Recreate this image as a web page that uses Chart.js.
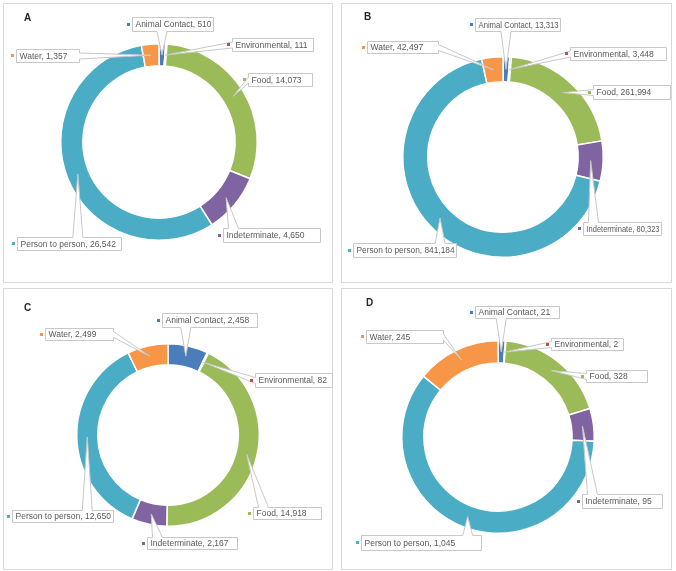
<!DOCTYPE html>
<html>
<head>
<meta charset="utf-8">
<script src="https://cdn.jsdelivr.net/npm/chart.js@4.4.1/dist/chart.umd.min.js"></script>
<style>
  body { margin: 0; background: #fff; width: 676px; height: 571px; position: relative; }
  .panel { position: absolute; border: 1px solid #d9d9d9; box-sizing: border-box; }
  .panel canvas { position: absolute; left: -1px; top: -1px; }
</style>
</head>
<body>
<div class="panel" style="left:3px;top:3px;width:330px;height:280px"><canvas id="chartA"></canvas></div>
<div class="panel" style="left:341px;top:3px;width:331px;height:280px"><canvas id="chartB"></canvas></div>
<div class="panel" style="left:3px;top:288px;width:330px;height:282px"><canvas id="chartC"></canvas></div>
<div class="panel" style="left:341px;top:288px;width:331px;height:282px"><canvas id="chartD"></canvas></div>
<script>
// --- Data ---
const categories = ['Animal Contact', 'Environmental', 'Food', 'Indeterminate', 'Person to person', 'Water'];
const valuesA = [510, 111, 14073, 4650, 26542, 1357];
const valuesB = [13313, 3448, 261994, 80323, 841184, 42497];
const valuesC = [2458, 82, 14918, 2167, 12650, 2499];
const valuesD = [21, 2, 328, 95, 1045, 245];

const sliceColors = ['#4a7ebb', '#c0504d', '#9bbb59', '#8064a2', '#4bacc6', '#f79646'];

// --- Layout per panel (donut centre / radius, label boxes [x, y, w, h]) ---
const layoutA = { w: 330, h: 280, cx: 156, cy: 139, r: 99, cutout: '77.5%', title: 'A', tx: 21, ty: 15,
  boxes: [[129, 14, 81, 14], [229, 35, 81, 13], [245, 70, 64, 13], [220, 225, 97, 14], [14, 234, 104, 13], [13, 46, 63, 13]] };
const layoutB = { w: 331, h: 280, cx: 162, cy: 154, r: 101, cutout: '75%', title: 'B', tx: 23, ty: 14,
  boxes: [[134, 15, 85, 13], [229, 44, 96, 13], [252, 82, 77, 14], [242, 219, 78, 13], [12, 240, 103, 14], [26, 38, 71, 12]] };
const layoutC = { w: 330, h: 282, cx: 165, cy: 147, r: 92, cutout: '77%', title: 'C', tx: 21, ty: 20,
  boxes: [[159, 25, 95, 14], [252, 85, 77, 14], [250, 219, 68, 12], [144, 249, 90, 12], [9, 222, 101, 12], [42, 40, 68, 12]] };
const layoutD = { w: 331, h: 282, cx: 157, cy: 149, r: 97, cutout: '77%', title: 'D', tx: 25, ty: 15,
  boxes: [[134, 18, 84, 12], [210, 50, 72, 12], [245, 82, 61, 12], [241, 206, 80, 14], [20, 247, 120, 15], [25, 42, 77, 13]] };

// wedge callouts pointing at the middle of each slice
const calloutPlugin = {
  id: 'callouts',
  afterDatasetsDraw(chart, args, opts) {
    const ctx = chart.ctx;
    const arcs = chart.getDatasetMeta(0).data;
    const vals = chart.data.datasets[0].data;
    ctx.save();
    ctx.font = '8.5px "Liberation Sans", Arial, sans-serif';
    ctx.lineWidth = 1;
    ctx.strokeStyle = '#c8c8c8';

    const labels = opts.boxes.map((b, i) => ({
      x: b[0] + 0.5, y: b[1] + 0.5, w: b[2], h: b[3],
      text: categories[i] + ', ' + vals[i].toLocaleString('en-US'),
      tip: arcs[i].getCenterPoint()
    }));

    labels.forEach(l => {
      const { x, y, w, h, tip } = l;
      const dx = tip.x < x ? x - tip.x : (tip.x > x + w ? tip.x - x - w : 0);
      const dy = tip.y < y ? y - tip.y : (tip.y > y + h ? tip.y - y - h : 0);
      const bx = Math.min(Math.max(tip.x, x + 10), x + w - 10);
      const by = y + h / 2;
      const hw = 5, hv = Math.min(3, h / 2 - 1);
      const pts = [[x, y]];
      if (dy >= dx && tip.y < y) pts.push([bx - hw, y], [tip.x, tip.y], [bx + hw, y]);
      pts.push([x + w, y]);
      if (dx > dy && tip.x > x + w) pts.push([x + w, by - hv], [tip.x, tip.y], [x + w, by + hv]);
      pts.push([x + w, y + h]);
      if (dy >= dx && tip.y > y + h) pts.push([bx + hw, y + h], [tip.x, tip.y], [bx - hw, y + h]);
      pts.push([x, y + h]);
      if (dx > dy && tip.x < x) pts.push([x, by + hv], [tip.x, tip.y], [x, by - hv]);
      ctx.beginPath();
      pts.forEach((p, k) => k ? ctx.lineTo(p[0], p[1]) : ctx.moveTo(p[0], p[1]));
      ctx.closePath();
      ctx.fillStyle = '#fff';
      ctx.fill();
      ctx.stroke();
    });

    labels.forEach((l, i) => {
      ctx.fillStyle = sliceColors[i];
      ctx.fillRect(Math.round(l.x - 6), Math.round(l.y + l.h / 2 - 2), 3, 3);
      ctx.fillStyle = '#595959';
      ctx.textBaseline = 'middle';
      ctx.textAlign = 'left';
      ctx.fillText(l.text, l.x + 3, l.y + l.h / 2 + 0.5, l.w - 5);
    });

    ctx.fillStyle = '#262626';
    ctx.font = 'bold 10px "Liberation Sans", Arial, sans-serif';
    ctx.fillText(opts.title, opts.tx, opts.ty);
    ctx.restore();
  }
};

function drawDonut(id, values, lay) {
  const canvas = document.getElementById(id);
  canvas.width = lay.w;
  canvas.height = lay.h;
  return new Chart(canvas, {
    type: 'doughnut',
    data: {
      labels: categories,
      datasets: [{
        data: values,
        backgroundColor: sliceColors,
        borderColor: '#ffffff',
        borderWidth: 1.5
      }]
    },
    options: {
      responsive: false,
      animation: false,
      cutout: lay.cutout,
      layout: {
        padding: {
          left: lay.cx - lay.r,
          top: lay.cy - lay.r,
          right: lay.w - lay.cx - lay.r,
          bottom: lay.h - lay.cy - lay.r
        }
      },
      plugins: {
        legend: { display: false },
        tooltip: { enabled: false },
        callouts: { boxes: lay.boxes, title: lay.title, tx: lay.tx, ty: lay.ty }
      }
    },
    plugins: [calloutPlugin]
  });
}

drawDonut('chartA', valuesA, layoutA);
drawDonut('chartB', valuesB, layoutB);
drawDonut('chartC', valuesC, layoutC);
drawDonut('chartD', valuesD, layoutD);
</script>
</body>
</html>
